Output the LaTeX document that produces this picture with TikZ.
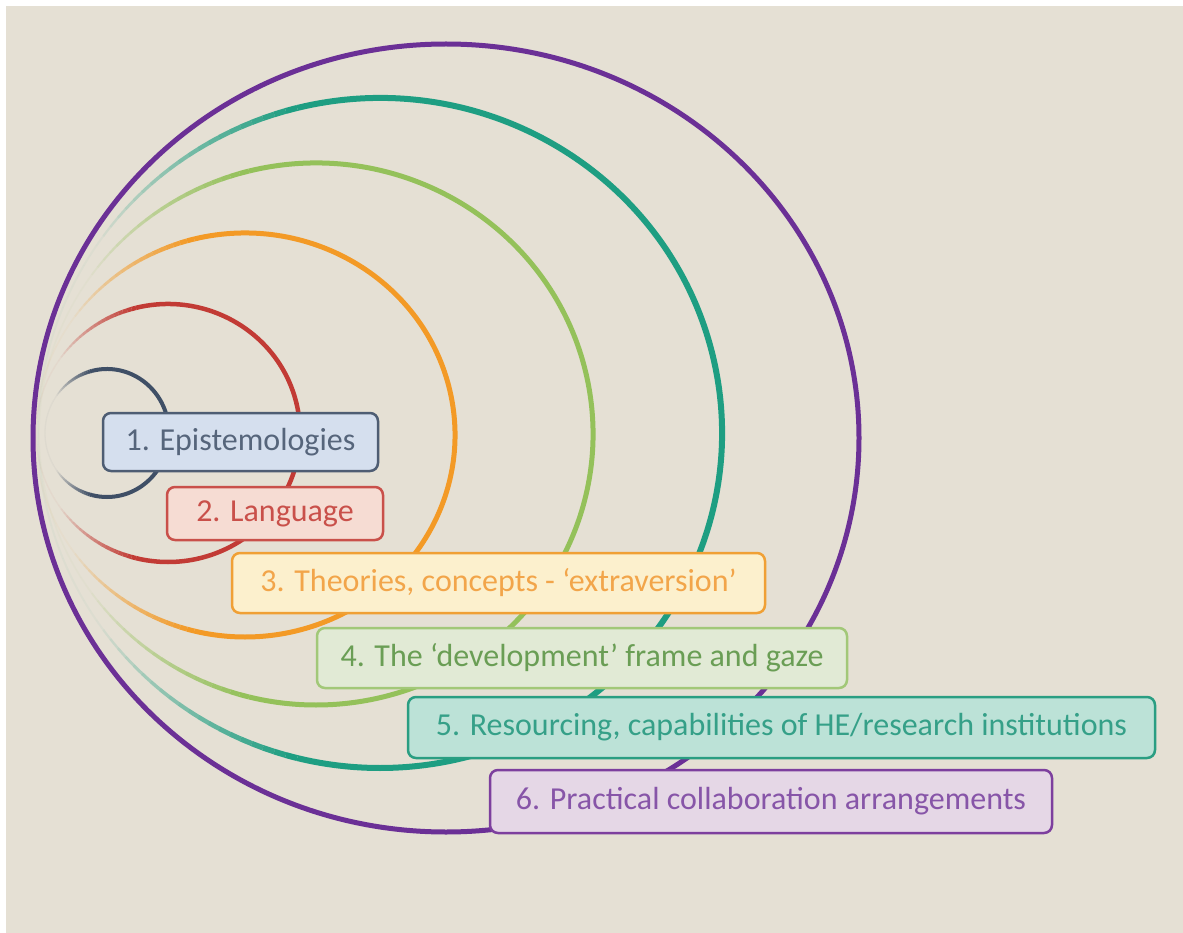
\documentclass[tikz,border=0pt]{standalone}
\usepackage{fontspec}
\setmainfont{Carlito}
\definecolor{bgc}{HTML}{E5E0D4}
\definecolor{cnavy}{HTML}{3F4F66}
\definecolor{cred}{HTML}{C23B35}
\definecolor{corange}{HTML}{F39A26}
\definecolor{cgreen}{HTML}{94C15A}
\definecolor{cteal}{HTML}{1E9E82}
\definecolor{cpurple}{HTML}{6B3096}
\definecolor{fnavy}{HTML}{D5DFEE}\definecolor{dnavy}{HTML}{4E5D73}\definecolor{tnavy}{HTML}{56657B}
\definecolor{fred}{HTML}{F6DCD3}\definecolor{dred}{HTML}{C9504A}\definecolor{tred}{HTML}{C9504A}
\definecolor{forange}{HTML}{FCF0CD}\definecolor{dorange}{HTML}{F0A035}\definecolor{torange}{HTML}{F2A54A}
\definecolor{fgreen}{HTML}{E1EAD5}\definecolor{dgreen}{HTML}{A2C878}\definecolor{tgreen}{HTML}{6A9E55}
\definecolor{fteal}{HTML}{BCE2D7}\definecolor{dteal}{HTML}{2A9E82}\definecolor{tteal}{HTML}{35A088}
\definecolor{fpurple}{HTML}{E5D7E6}\definecolor{dpurple}{HTML}{7D3F9E}\definecolor{tpurple}{HTML}{8755A8}
\newcommand\fadeell[6]{%
  \draw[#1, line width=#2] (#3,#4) ++(-104:#5 and #6) arc[start angle=-104, end angle=104, x radius=#5, y radius=#6];
  \foreach \a in {104,106,...,178}{
    \pgfmathsetmacro\op{max(0.04,min(1,(146-\a)/42))}
    \pgfmathsetmacro\lw{#2*(0.3+0.7*\op)}
    \draw[#1, line width=\lw pt, opacity=\op] (#3,#4) ++(\a:#5 and #6) arc[start angle=\a, delta angle=2, x radius=#5, y radius=#6];
    \draw[#1, line width=\lw pt, opacity=\op] (#3,#4) ++(-\a:#5 and #6) arc[start angle=-\a, delta angle=-2, x radius=#5, y radius=#6];
  }%
}
\tikzset{
  lbox/.style={rounded corners=8pt, line width=2.5pt, inner sep=0pt, align=center,
    font=\fontsize{32}{38}\selectfont},
}
\begin{document}
\begin{tikzpicture}[x=1pt,y=-1pt]
\useasboundingbox (0,0) rectangle (1183,933);
\fill[white] (0,0) rectangle (1183,933);
\fill[bgc] (6,6) rectangle (1183,933);
% circles
\fadeell{cnavy}{4}{107}{433}{62}{64}
\fadeell{cred}{4.5}{168}{433}{132}{129}
\fadeell{corange}{5}{245}{435}{210}{202}
\fadeell{cgreen}{5}{316}{434}{277}{271}
\fadeell{cteal}{6}{380}{433}{342}{335}
\draw[cpurple, line width=5pt] (446,438) ellipse[x radius=413, y radius=394];
% boxes
\node[lbox, fill=fnavy, draw=dnavy, text=tnavy, minimum width=275pt, minimum height=58pt] (b1) at (240.5,442) {1. Epistemologies};
\node[lbox, fill=fred, draw=dred, text=tred, minimum width=216pt, minimum height=53pt] (b2) at (275,513.5) {2. Language};
\node[lbox, fill=forange, draw=dorange, text=torange, minimum width=533pt, minimum height=60pt] (b3) at (498.5,583) {3. Theories, concepts - ‘extraversion’};
\node[lbox, fill=fgreen, draw=dgreen, text=tgreen, minimum width=530pt, minimum height=60pt] (b4) at (582,658) {4. The ‘development’ frame and gaze};
\node[lbox, fill=fteal, draw=dteal, text=tteal, minimum width=747pt, minimum height=61pt] (b5) at (781.5,727.5) {5. Resourcing, capabilities of HE/research institutions};
\node[lbox, fill=fpurple, draw=dpurple, text=tpurple, minimum width=562pt, minimum height=63pt] (b6) at (771,801.5) {6. Practical collaboration arrangements};
\end{tikzpicture}
\end{document}
